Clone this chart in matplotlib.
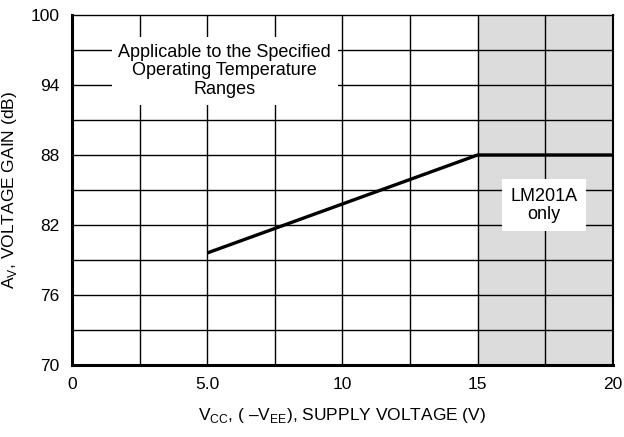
import numpy as np
import matplotlib
matplotlib.use("Agg")
import matplotlib.pyplot as plt

plt.rcParams["font.family"] = ["Liberation Sans", "DejaVu Sans"]
plt.rcParams["mathtext.fontset"] = "custom"
plt.rcParams["mathtext.rm"] = "Liberation Sans"

# supply voltage (V) vs voltage gain (dB)
vcc = [5.0, 15.0, 20.0]
gain = [79.6, 88.0, 88.0]

xticks = [0, 5, 10, 15, 20]
xticklabels = ["0", "5.0", "10", "15", "20"]
yticks = [70, 76, 82, 88, 94, 100]
shade = (15, 20)

fig = plt.figure(figsize=(6.24, 4.37), dpi=100)
ax = fig.add_axes([0.1154, 0.1648, 0.8666, 0.8009])

ax.axvspan(*shade, color="#dcdcdc", zorder=0, lw=0)
for xv in np.arange(2.5, 20, 2.5):
    ax.axvline(xv, color="black", lw=1.0, zorder=1)
for yv in np.arange(73, 100, 3):
    ax.axhline(yv, color="black", lw=1.0, zorder=1)

ax.plot(vcc, gain, color="black", lw=2.4, solid_capstyle="butt", zorder=3)

ax.set_xlim(0, 20)
ax.set_ylim(70, 100)
ax.set_xticks(xticks)
ax.set_xticklabels(xticklabels)
ax.set_yticks(yticks)
ax.tick_params(length=0, labelsize=12.5, pad=9)
for s in ["left", "bottom"]:
    ax.spines[s].set_linewidth(2.2)
ax.spines["right"].set_linewidth(1.5)
ax.spines["top"].set_linewidth(1.0)

ax.set_xlabel(r"V$_\mathregular{CC}$, ( –V$_\mathregular{EE}$), SUPPLY VOLTAGE (V)",
              fontsize=12.5, labelpad=10)
ax.set_ylabel(r"A$_\mathregular{V}$, VOLTAGE GAIN (dB)", fontsize=12.5, labelpad=8)

ax.text(5.65, 95.2, "Applicable to the Specified\nOperating Temperature\nRanges",
        ha="center", va="center", fontsize=13, linespacing=1.1, zorder=4,
        bbox=dict(facecolor="white", edgecolor="none", pad=5))
ax.text(17.45, 83.7, "LM201A\nonly", ha="center", va="center", fontsize=13,
        linespacing=1.1, zorder=4,
        bbox=dict(facecolor="white", edgecolor="none", pad=6))

fig.savefig("out.png", dpi=100)
